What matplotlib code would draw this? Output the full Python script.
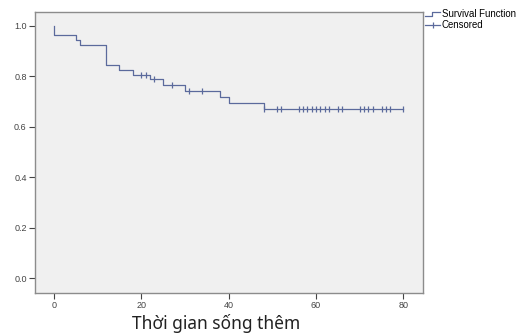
import numpy as np
import matplotlib
matplotlib.use("Agg")
import matplotlib.pyplot as plt
from matplotlib.legend_handler import HandlerBase
from matplotlib.lines import Line2D

# values (Kaplan-Meier curve)
event_times = [0, 5, 6, 12, 15, 18, 22, 25, 30, 38, 40, 48]
surv_levels = [0.962, 0.942, 0.923, 0.846, 0.826, 0.806, 0.790, 0.766, 0.743, 0.717, 0.693, 0.671]
last_time = 80
censor_times = [20, 21, 23, 27, 31, 34, 48, 51, 52, 56, 57, 58, 59, 60, 61, 62, 63,
                65, 66, 70, 71, 72, 73, 75, 76, 77, 80]
x_ticks = [0, 20, 40, 60, 80]
y_ticks = [0.0, 0.2, 0.4, 0.6, 0.8, 1.0]
labels = ["Survival Function", "Censored"]
xlabel = "Thời gian sống thêm"

line_col = "#5b6a9c"

class StepHandler(HandlerBase):
    def create_artists(self, legend, orig, xd, yd, w, h, fontsize, trans):
        xs = [xd, xd + w * 0.45, xd + w * 0.45, xd + w]
        ys = [yd + h * 0.2, yd + h * 0.2, yd + h * 0.8, yd + h * 0.8]
        ln = Line2D(xs, ys, color=line_col, lw=0.9, transform=trans)
        return [ln]

fig = plt.figure(figsize=(5.18, 3.33), dpi=100)
ax = fig.add_axes([35/518, 1 - 293/333, 388/518, 281/333])
ax.set_facecolor("#f0f0f0")

st = [0] + event_times + [last_time]
ss = [1.0] + surv_levels + [surv_levels[-1]]
ax.step(st, ss, where="post", color=line_col, lw=0.9)

idx = np.searchsorted(event_times, censor_times, side="right")
cy = [ss[i] for i in idx]
ax.plot(censor_times, cy, ls="none", marker="|", ms=5, mew=0.9, color=line_col)

ax.set_xlim(-4.35, 84.5)
ax.set_ylim(-0.058, 1.054)
ax.set_xticks(x_ticks)
ax.set_yticks(y_ticks)
ax.set_xticklabels([str(t) for t in x_ticks])
ax.set_yticklabels(["%.1f" % t for t in y_ticks])
ax.tick_params(labelsize=6.5, colors="#444444", length=4, width=0.8, pad=2,
               labelfontfamily="Liberation Sans")
for s in ax.spines.values():
    s.set_color("#8c8c8c")
    s.set_linewidth(1.0)

h1 = Line2D([], [], color=line_col)
h2 = Line2D([], [], color=line_col, lw=0.9, marker="|", ms=5, mew=0.9)
fig.legend([h1, h2], labels, loc="upper left", bbox_to_anchor=(425/518, 1 - 9/333),
           frameon=False, handlelength=1.6, handletextpad=0.15,
           labelspacing=0.1, borderpad=0, borderaxespad=0,
           handler_map={h1: StepHandler()},
           prop={"family": "Liberation Sans", "size": 6.9})

fig.text(216/518, 4/333, xlabel, ha="center", va="baseline", fontsize=12.5,
         family="Noto Sans", color="#222222")

fig.savefig("out.png", dpi=100)
